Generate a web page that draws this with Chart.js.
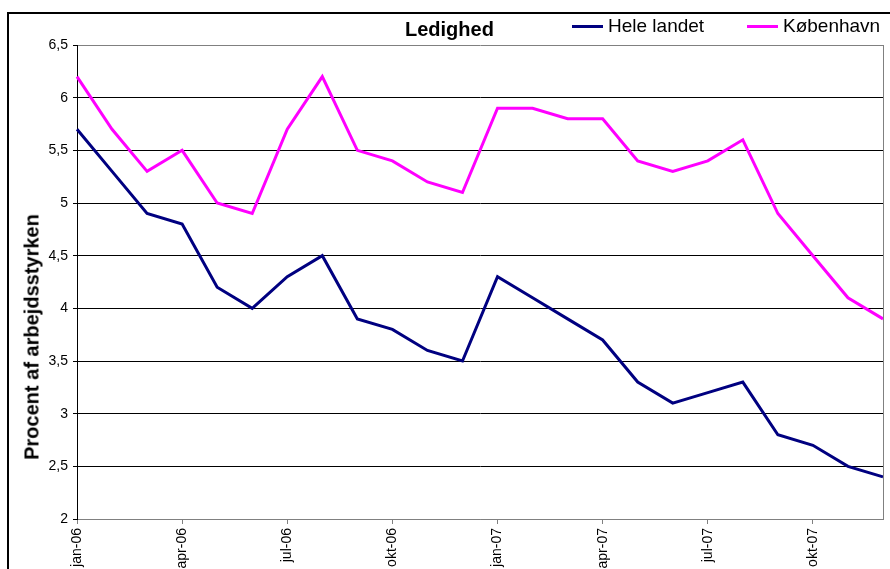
<!DOCTYPE html>
<html>
<head>
    <meta charset="UTF-8">
    <title>Ledighed</title>
    <style>
        body {
            margin: 0;
            padding: 0;
            background: #fff;
            overflow: hidden;
            font-family: 'Liberation Sans', Arial, sans-serif;
        }
        .wrap {
            position: relative;
            width: 890px;
            height: 569px;
            overflow: hidden;
        }
        .frame {
            position: absolute;
            left: 7px;
            top: 12px;
            width: 1000px;
            height: 1000px;
            border-left: 2px solid #000;
            border-top: 2px solid #000;
        }
        #chart {
            position: absolute;
            left: 0;
            top: 0;
        }
        .title {
            position: absolute;
            left: 405px;
            top: 18px;
            font-weight: bold;
            font-size: 20px;
        }
        .legend {
            position: absolute;
            top: 15px;
            font-size: 19px;
            display: flex;
            align-items: center;
        }
        .legend span.swatch {
            display: inline-block;
            width: 31px;
            height: 3px;
            margin-right: 5px;
        }
        .ytitle {
            position: absolute;
            left: 32px;
            top: 337px;
            transform: translate(-50%, -50%) rotate(-90deg);
            white-space: nowrap;
            font-weight: bold;
            font-size: 20px;
        }
    </style>
</head>
<body>
<div class="wrap">
    <div class="frame"></div>
    <canvas id="chart" width="890" height="620"></canvas>
    <div class="title">Ledighed</div>
    <div class="legend" style="left:572px;"><span class="swatch" style="background:#000080"></span>Hele landet</div>
    <div class="legend" style="left:747px;"><span class="swatch" style="background:#ff00ff"></span>København</div>
    <div class="ytitle">Procent af arbejdsstyrken</div>
</div>
<script src="https://cdn.jsdelivr.net/npm/chart.js"></script>
<script>
    const months = ['jan-06', 'feb-06', 'mar-06', 'apr-06', 'maj-06', 'jun-06', 'jul-06', 'aug-06', 'sep-06', 'okt-06', 'nov-06', 'dec-06',
                    'jan-07', 'feb-07', 'mar-07', 'apr-07', 'maj-07', 'jun-07', 'jul-07', 'aug-07', 'sep-07', 'okt-07', 'nov-07', 'dec-07'];
    const heleLandet = [5.7, 5.3, 4.9, 4.8, 4.2, 4.0, 4.3, 4.5, 3.9, 3.8, 3.6, 3.5,
                        4.3, 4.1, 3.9, 3.7, 3.3, 3.1, 3.2, 3.3, 2.8, 2.7, 2.5, 2.4];
    const koebenhavn = [6.2, 5.7, 5.3, 5.5, 5.0, 4.9, 5.7, 6.2, 5.5, 5.4, 5.2, 5.1,
                        5.9, 5.9, 5.8, 5.8, 5.4, 5.3, 5.4, 5.6, 4.9, 4.5, 4.1, 3.9];
    const yMin = 2;
    const yMax = 6.5;
    const yStep = 0.5;

    // right border of the plot area
    const plotBorder = {
        id: 'plotBorder',
        afterDraw(chart) {
            const a = chart.chartArea;
            const c = chart.ctx;
            c.save();
            c.strokeStyle = '#808080';
            c.lineWidth = 1;
            c.beginPath();
            c.moveTo(a.right + 0.5, a.top);
            c.lineTo(a.right + 0.5, a.bottom);
            c.stroke();
            c.restore();
        }
    };

    const ctx = document.getElementById('chart').getContext('2d');
    new Chart(ctx, {
        type: 'line',
        data: {
            labels: months,
            datasets: [{
                label: 'Hele landet',
                data: heleLandet,
                borderColor: '#000080',
                borderWidth: 3,
                pointRadius: 0,
                tension: 0
            }, {
                label: 'København',
                data: koebenhavn,
                borderColor: '#ff00ff',
                borderWidth: 3,
                pointRadius: 0,
                tension: 0
            }]
        },
        options: {
            responsive: false,
            animation: false,
            layout: { padding: { top: 45, right: 7, left: 0, bottom: 0 } },
            plugins: {
                legend: { display: false },
                title: { display: false },
                tooltip: { enabled: false }
            },
            scales: {
                x: {
                    offset: false,
                    afterFit(scale) {
                        scale.height = 101;
                        scale.paddingLeft = 0;
                        scale.paddingRight = 0;
                    },
                    border: { color: '#808080', width: 1 },
                    grid: {
                        drawOnChartArea: false,
                        tickLength: 5,
                        tickColor: c => (c.index % 3 === 0 ? '#808080' : 'rgba(0,0,0,0)')
                    },
                    ticks: {
                        autoSkip: false,
                        minRotation: 90,
                        maxRotation: 90,
                        padding: 4,
                        color: '#000',
                        font: { family: 'Liberation Sans', size: 14 },
                        callback: (v, i) => (i % 3 === 0 ? months[i] : '')
                    }
                },
                y: {
                    min: yMin,
                    max: yMax,
                    afterFit(scale) {
                        scale.width = 77;
                        scale.paddingTop = 0;
                        scale.paddingBottom = 0;
                    },
                    border: { color: '#000', width: 1 },
                    grid: {
                        color: c => (c.tick.value === yMax || c.tick.value === yMin ? '#808080' : '#000'),
                        tickColor: '#000',
                        tickLength: 4
                    },
                    ticks: {
                        stepSize: yStep,
                        padding: 5,
                        color: '#000',
                        font: { family: 'Liberation Sans', size: 14 },
                        callback: v => String(v).replace('.', ',')
                    }
                }
            }
        },
        plugins: [plotBorder]
    });
</script>
</body>
</html>
